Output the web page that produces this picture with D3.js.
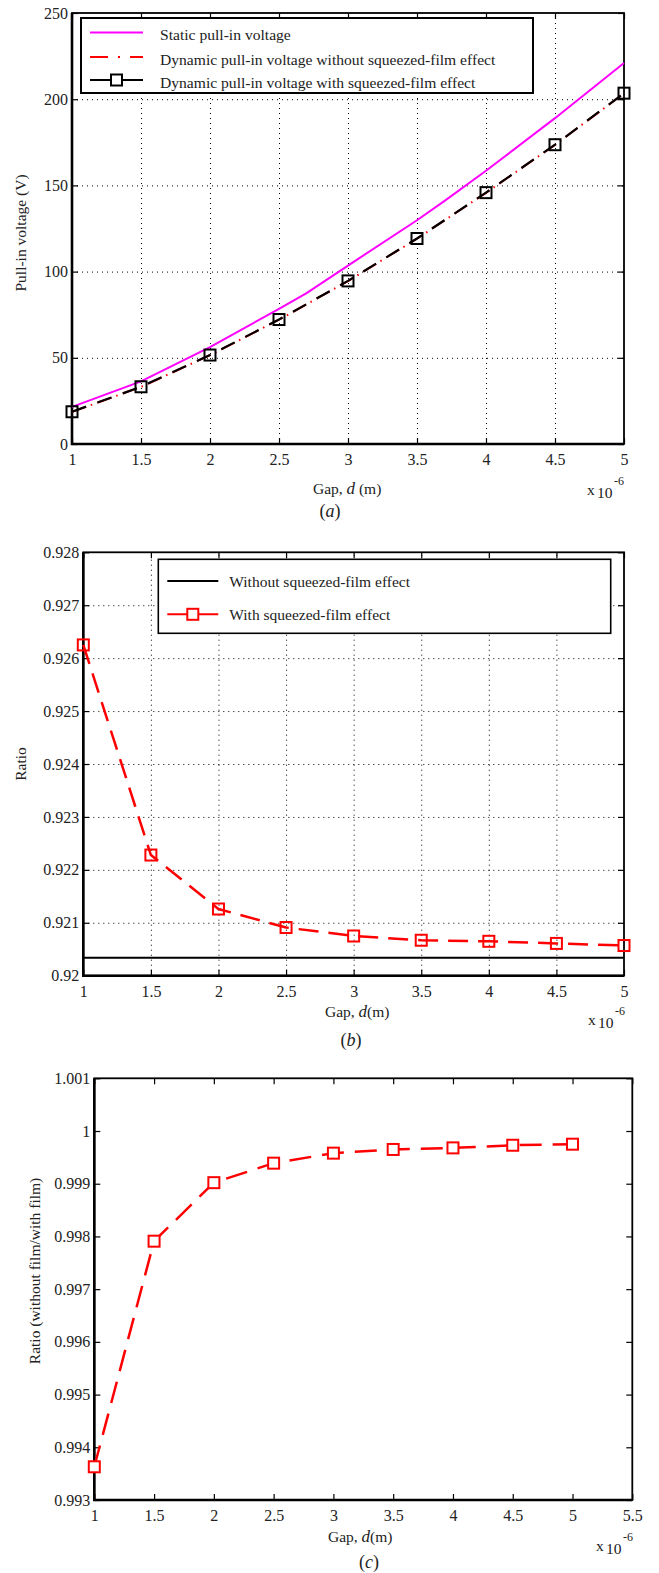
<!DOCTYPE html>
<html lang="en">
<head>
<meta charset="UTF-8">
<title>Pull-in voltage vs gap</title>
<script src="https://cdn.jsdelivr.net/npm/d3@7"></script>
<style>
    body { margin: 0; background: #fff; }
    svg { font-family: "Liberation Serif", "DejaVu Serif", serif; }
    .grid line { stroke: #000; stroke-width: 1; stroke-dasharray: 1, 4; }
    .axis line { stroke: #000; stroke-width: 1.2; }
    .axis text { font-family: "Liberation Serif", serif; font-size: 16px; fill: #222; }
    .lbl { font-size: 15.5px; fill: #222; }
</style>
</head>
<body>
<script>
// gap in units of 1e-6 m
const gap = [1, 1.5, 2, 2.5, 3, 3.5, 4, 4.5, 5];

// (a) pull-in voltage (V)
const staticGap = [1, 1.5, 2, 2.5, 2.7, 3, 3.5, 3.7, 4, 4.5, 5];
const staticV = [21.5, 36.3, 56.2, 78.4, 87.5, 103.5, 129.8, 141, 158.5, 189, 221];
const dynNoFilmV = [18.6, 33.1, 51.5, 72.1, 94.5, 119.1, 145.7, 173.5, 203.4];
const dynFilmV = [18.7, 33.2, 51.6, 72.2, 94.6, 119.2, 145.8, 173.6, 203.5];

// (b) dynamic / static ratio
const ratioNoFilm = [0.92034, 0.92034, 0.92034, 0.92034, 0.92034, 0.92034, 0.92034, 0.92034, 0.92034];
const ratioFilm = [0.92625, 0.92228, 0.92126, 0.92091, 0.92075, 0.92067, 0.92065, 0.92061, 0.92057];

// (c) without film / with film
const ratioC = [0.99363, 0.99791, 0.99902, 0.99939, 0.99958, 0.99965, 0.99968, 0.99973, 0.99975];

// tick labels
const xTicksAB = [1, 1.5, 2, 2.5, 3, 3.5, 4, 4.5, 5];
const xLabelsAB = ["1", "1.5", "2", "2.5", "3", "3.5", "4", "4.5", "5"];
const xTicksC = [1, 1.5, 2, 2.5, 3, 3.5, 4, 4.5, 5, 5.5];
const xLabelsC = ["1", "1.5", "2", "2.5", "3", "3.5", "4", "4.5", "5", "5.5"];
const yTicksA = [0, 50, 100, 150, 200, 250];
const yLabelsA = ["0", "50", "100", "150", "200", "250"];
const yTicksB = [0.92, 0.921, 0.922, 0.923, 0.924, 0.925, 0.926, 0.927, 0.928];
const yLabelsB = ["0.92", "0.921", "0.922", "0.923", "0.924", "0.925", "0.926", "0.927", "0.928"];
const yTicksC = [0.993, 0.994, 0.995, 0.996, 0.997, 0.998, 0.999, 1, 1.001];
const yLabelsC = ["0.993", "0.994", "0.995", "0.996", "0.997", "0.998", "0.999", "1", "1.001"];

const svg = d3.select("body").append("svg")
    .attr("width", 659)
    .attr("height", 1573);

// one matlab-style axes box with inward ticks on all sides
function panel(o) {
    const x = d3.scaleLinear().domain(o.xDomain).range([o.left, o.right]);
    const y = d3.scaleLinear().domain(o.yDomain).range([o.bottom, o.top]);
    const w = o.right - o.left, h = o.bottom - o.top;
    const g = svg.append("g");

    if (o.grid) {
        g.append("g").attr("class", "grid")
            .attr("transform", `translate(0,${o.bottom})`)
            .call(d3.axisBottom(x).tickValues(o.xTicks.slice(1, -1)).tickSize(-h).tickFormat(""));
        g.append("g").attr("class", "grid")
            .attr("transform", `translate(${o.left},0)`)
            .call(d3.axisLeft(y).tickValues(o.yTicks.slice(1, -1)).tickSize(-w).tickFormat(""));
    }

    g.append("g").attr("class", "axis")
        .attr("transform", `translate(0,${o.bottom})`)
        .call(d3.axisBottom(x).tickValues(o.xTicks).tickSize(-6).tickPadding(10)
            .tickFormat((d, i) => o.xLabels[i]));
    g.append("g").attr("class", "axis")
        .attr("transform", `translate(0,${o.top})`)
        .call(d3.axisTop(x).tickValues(o.xTicks).tickSize(-6).tickFormat(""));
    g.append("g").attr("class", "axis")
        .attr("transform", `translate(${o.left},0)`)
        .call(d3.axisLeft(y).tickValues(o.yTicks).tickSize(-6).tickPadding(4)
            .tickFormat((d, i) => o.yLabels[i]));
    g.append("g").attr("class", "axis")
        .attr("transform", `translate(${o.right},0)`)
        .call(d3.axisRight(y).tickValues(o.yTicks).tickSize(-6).tickFormat(""));
    g.selectAll(".domain").remove();

    // box
    g.append("rect")
        .attr("x", o.left).attr("y", o.top)
        .attr("width", w).attr("height", h)
        .attr("fill", "none").attr("stroke", "#000").attr("stroke-width", 1.8);
    g.append("path")
        .attr("d", `M${o.left},${o.top}V${o.bottom}H${o.right}`)
        .attr("fill", "none").attr("stroke", "#000").attr("stroke-width", 2.6);

    return { g, x, y };
}

function squares(g, xs, ys, x, y, color, fill) {
    g.selectAll(null)
        .data(xs)
        .enter()
        .append("rect")
        .attr("x", (d, i) => x(d) - 5.5)
        .attr("y", (d, i) => y(ys[i]) - 5.5)
        .attr("width", 11).attr("height", 11)
        .attr("fill", fill).attr("stroke", color).attr("stroke-width", 2);
}

function xExponent(x0, base) {
    svg.append("text").attr("class", "lbl").attr("x", x0).attr("y", base).text("x");
    svg.append("text").attr("class", "lbl").attr("x", x0 + 10).attr("y", base + 3).text("10");
    svg.append("text").attr("class", "lbl").attr("x", x0 + 27).attr("y", base - 10)
        .style("font-size", "12px").text("-6");
}

function gapLabel(x0, base, sep) {
    const t = svg.append("text").attr("class", "lbl").attr("x", x0).attr("y", base);
    t.append("tspan").text("Gap, ");
    t.append("tspan").style("font-style", "italic").style("font-size", "17px").text("d");
    t.append("tspan").text(sep + "(m)");
}

function caption(x0, base, letter) {
    const t = svg.append("text").attr("class", "lbl").attr("x", x0).attr("y", base)
        .attr("text-anchor", "middle").style("font-size", "18px");
    t.append("tspan").text("(");
    t.append("tspan").style("font-style", "italic").text(letter);
    t.append("tspan").text(")");
}

function yLabel(xb, yc, text) {
    svg.append("text").attr("class", "lbl")
        .attr("transform", `translate(${xb},${yc}) rotate(-90)`)
        .attr("text-anchor", "middle")
        .text(text);
}

const line = (x, y, xs) => d3.line().x((d, i) => x(xs[i])).y(d => y(d));

// ---------------- (a) ----------------
const A = panel({
    left: 72, right: 624, top: 13, bottom: 444,
    xDomain: [1, 5], yDomain: [0, 250],
    xTicks: xTicksAB, xLabels: xLabelsAB, yTicks: yTicksA, yLabels: yLabelsA, grid: true
});
A.g.append("path").datum(staticV)
    .attr("d", line(A.x, A.y, staticGap))
    .attr("fill", "none").attr("stroke", "#ff00ff").attr("stroke-width", 2);
// red dash-dot under the black dashes, same period so the dot sits in each gap
A.g.append("path").datum(dynNoFilmV)
    .attr("d", line(A.x, A.y, gap))
    .attr("fill", "none").attr("stroke", "#ff0000").attr("stroke-width", 2)
    .attr("stroke-dasharray", "15,5,1.5,5.5");
A.g.append("path").datum(dynFilmV)
    .attr("d", line(A.x, A.y, gap))
    .attr("fill", "none").attr("stroke", "#000").attr("stroke-width", 2.2)
    .attr("stroke-dasharray", "15,12");
squares(A.g, gap, dynFilmV, A.x, A.y, "#000", "none");

// legend (a)
const legA = svg.append("g").attr("transform", "translate(81,18)");
legA.append("rect").attr("width", 452).attr("height", 75)
    .attr("fill", "#fff").attr("stroke", "#000").attr("stroke-width", 2);
const legAItems = ["Static pull-in voltage",
    "Dynamic pull-in voltage without squeezed-film effect",
    "Dynamic pull-in voltage with squeezed-film effect"];
const legARows = [14.5, 39, 62];
legA.append("line").attr("x1", 9).attr("x2", 62).attr("y1", legARows[0]).attr("y2", legARows[0])
    .attr("stroke", "#ff00ff").attr("stroke-width", 2);
legA.append("line").attr("x1", 9).attr("x2", 62).attr("y1", legARows[1]).attr("y2", legARows[1])
    .attr("stroke", "#ff0000").attr("stroke-width", 2).attr("stroke-dasharray", "18,10,2,10");
legA.append("line").attr("x1", 9).attr("x2", 62).attr("y1", legARows[2]).attr("y2", legARows[2])
    .attr("stroke", "#000").attr("stroke-width", 2);
legA.append("rect").attr("x", 30).attr("y", legARows[2] - 5.5).attr("width", 11).attr("height", 11)
    .attr("fill", "#fff").attr("stroke", "#000").attr("stroke-width", 2);
legAItems.forEach((s, i) => {
    legA.append("text").attr("class", "lbl").attr("x", 79).attr("y", legARows[i] + 7.5)
        .style("font-size", "15.6px").text(s);
});

yLabel(26, 233, "Pull-in voltage (V)");
gapLabel(313, 494, " ");
xExponent(587, 495);
caption(330, 517, "a");

// ---------------- (b) ----------------
const B = panel({
    left: 83.3, right: 624, top: 552.3, bottom: 975.7,
    xDomain: [1, 5], yDomain: [0.92, 0.928],
    xTicks: xTicksAB, xLabels: xLabelsAB, yTicks: yTicksB, yLabels: yLabelsB, grid: true
});
B.g.append("path").datum(ratioNoFilm)
    .attr("d", line(B.x, B.y, gap))
    .attr("fill", "none").attr("stroke", "#000").attr("stroke-width", 2);
B.g.append("path").datum(ratioFilm)
    .attr("d", line(B.x, B.y, gap))
    .attr("fill", "none").attr("stroke", "#ff0000").attr("stroke-width", 2.5)
    .attr("stroke-dasharray", "20,10");
squares(B.g, gap, ratioFilm, B.x, B.y, "#ff0000", "none");

const legB = svg.append("g").attr("transform", "translate(158.3,559.3)");
legB.append("rect").attr("width", 452.4).attr("height", 74)
    .attr("fill", "#fff").attr("stroke", "#000").attr("stroke-width", 1.6);
legB.append("line").attr("x1", 9).attr("x2", 60).attr("y1", 21.7).attr("y2", 21.7)
    .attr("stroke", "#000").attr("stroke-width", 2);
legB.append("line").attr("x1", 9).attr("x2", 60).attr("y1", 55).attr("y2", 55)
    .attr("stroke", "#ff0000").attr("stroke-width", 2);
legB.append("rect").attr("x", 29).attr("y", 49.5).attr("width", 11).attr("height", 11)
    .attr("fill", "#fff").attr("stroke", "#ff0000").attr("stroke-width", 2);
legB.append("text").attr("class", "lbl").attr("x", 71).attr("y", 27.5).text("Without squeezed-film effect");
legB.append("text").attr("class", "lbl").attr("x", 71).attr("y", 61).text("With squeezed-film effect");

yLabel(26, 764, "Ratio");
gapLabel(325, 1017, "");
xExponent(588, 1025);
caption(351, 1046, "b");

// ---------------- (c) ----------------
const C = panel({
    left: 94.3, right: 632.3, top: 1078.3, bottom: 1500,
    xDomain: [1, 5.5], yDomain: [0.993, 1.001],
    xTicks: xTicksC, xLabels: xLabelsC, yTicks: yTicksC, yLabels: yLabelsC, grid: false
});
C.g.append("path").datum(ratioC)
    .attr("d", line(C.x, C.y, gap))
    .attr("fill", "none").attr("stroke", "#ff0000").attr("stroke-width", 2.5)
    .attr("stroke-dasharray", "22,11");
squares(C.g, gap, ratioC, C.x, C.y, "#ff0000", "#fff");

yLabel(40, 1271, "Ratio (without film/with film)");
gapLabel(328, 1542, "");
xExponent(596, 1551);
caption(369, 1568, "c");
</script>
</body>
</html>
